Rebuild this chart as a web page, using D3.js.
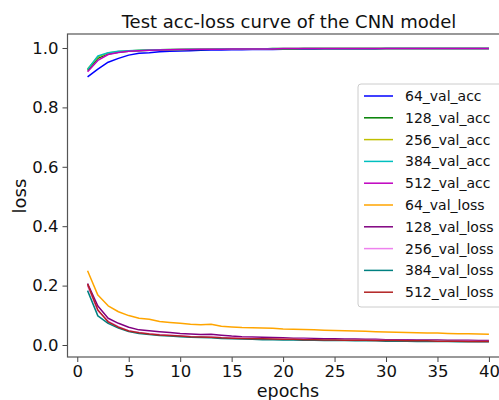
<!DOCTYPE html>
<html>
<head>
<meta charset="utf-8">
<script src="https://cdn.jsdelivr.net/npm/d3@7"></script>
<style>
  body { margin: 0; background: #fff; }
  svg { font-family: "DejaVu Sans", sans-serif; }
</style>
</head>
<body>
<svg width="499" height="400"></svg>
<script>
// epochs 1..40
var epochs = d3.range(1, 41);

var acc64  = [0.903, 0.929, 0.952, 0.965, 0.976, 0.982, 0.984, 0.987, 0.989, 0.990, 0.991, 0.992, 0.993, 0.993, 0.994, 0.994, 0.995, 0.995, 0.995, 0.996, 0.996, 0.996, 0.996, 0.997, 0.997, 0.997, 0.997, 0.997, 0.997, 0.998, 0.998, 0.998, 0.998, 0.998, 0.998, 0.998, 0.998, 0.998, 0.998, 0.998];
var acc128 = [0.924, 0.965, 0.980, 0.986, 0.989, 0.991, 0.992, 0.993, 0.994, 0.995, 0.995, 0.995, 0.996, 0.996, 0.996, 0.997, 0.997, 0.997, 0.997, 0.997, 0.997, 0.998, 0.998, 0.998, 0.998, 0.998, 0.998, 0.998, 0.998, 0.998, 0.998, 0.998, 0.998, 0.998, 0.998, 0.998, 0.998, 0.998, 0.998, 0.998];
var acc256 = [0.929, 0.970, 0.983, 0.988, 0.990, 0.992, 0.993, 0.994, 0.995, 0.995, 0.996, 0.996, 0.996, 0.997, 0.997, 0.997, 0.997, 0.997, 0.998, 0.998, 0.998, 0.998, 0.998, 0.998, 0.998, 0.998, 0.998, 0.998, 0.998, 0.998, 0.998, 0.998, 0.998, 0.998, 0.998, 0.998, 0.998, 0.998, 0.998, 0.998];
var acc384 = [0.928, 0.973, 0.984, 0.989, 0.991, 0.992, 0.993, 0.994, 0.995, 0.995, 0.996, 0.996, 0.996, 0.997, 0.997, 0.997, 0.997, 0.997, 0.998, 0.998, 0.998, 0.998, 0.998, 0.998, 0.998, 0.998, 0.998, 0.998, 0.998, 0.998, 0.998, 0.998, 0.998, 0.998, 0.998, 0.998, 0.998, 0.998, 0.998, 0.998];
var acc512 = [0.920, 0.958, 0.978, 0.985, 0.989, 0.991, 0.992, 0.993, 0.994, 0.995, 0.995, 0.996, 0.996, 0.996, 0.997, 0.997, 0.997, 0.997, 0.997, 0.998, 0.998, 0.998, 0.998, 0.998, 0.998, 0.998, 0.998, 0.998, 0.998, 0.998, 0.998, 0.998, 0.998, 0.998, 0.998, 0.998, 0.998, 0.998, 0.998, 0.998];

var loss64  = [0.250, 0.168, 0.132, 0.112, 0.099, 0.090, 0.087, 0.079, 0.076, 0.073, 0.070, 0.068, 0.070, 0.063, 0.061, 0.059, 0.058, 0.057, 0.056, 0.054, 0.053, 0.052, 0.051, 0.050, 0.049, 0.048, 0.047, 0.046, 0.045, 0.044, 0.043, 0.042, 0.041, 0.040, 0.040, 0.039, 0.038, 0.038, 0.037, 0.036];
var loss128 = [0.207, 0.131, 0.090, 0.073, 0.060, 0.051, 0.048, 0.045, 0.042, 0.039, 0.037, 0.035, 0.036, 0.033, 0.030, 0.028, 0.027, 0.026, 0.025, 0.024, 0.023, 0.023, 0.022, 0.021, 0.021, 0.020, 0.020, 0.019, 0.019, 0.018, 0.018, 0.018, 0.017, 0.017, 0.017, 0.016, 0.016, 0.016, 0.015, 0.015];
var loss256 = [0.200, 0.115, 0.080, 0.062, 0.048, 0.042, 0.038, 0.035, 0.033, 0.031, 0.029, 0.028, 0.027, 0.025, 0.024, 0.023, 0.022, 0.021, 0.020, 0.020, 0.019, 0.019, 0.018, 0.018, 0.017, 0.017, 0.016, 0.016, 0.016, 0.015, 0.015, 0.015, 0.014, 0.014, 0.014, 0.013, 0.013, 0.013, 0.012, 0.012];
var loss384 = [0.183, 0.098, 0.073, 0.057, 0.045, 0.039, 0.035, 0.032, 0.030, 0.028, 0.026, 0.025, 0.024, 0.022, 0.021, 0.020, 0.019, 0.018, 0.018, 0.017, 0.017, 0.016, 0.016, 0.015, 0.015, 0.015, 0.014, 0.014, 0.014, 0.013, 0.013, 0.013, 0.012, 0.012, 0.012, 0.012, 0.011, 0.011, 0.011, 0.011];
var loss512 = [0.205, 0.118, 0.078, 0.060, 0.047, 0.041, 0.037, 0.034, 0.032, 0.030, 0.028, 0.027, 0.026, 0.024, 0.023, 0.022, 0.021, 0.021, 0.020, 0.019, 0.019, 0.018, 0.018, 0.017, 0.017, 0.016, 0.016, 0.016, 0.015, 0.015, 0.015, 0.014, 0.014, 0.014, 0.013, 0.013, 0.013, 0.012, 0.012, 0.012];

var names  = ["64_val_acc", "128_val_acc", "256_val_acc", "384_val_acc", "512_val_acc",
              "64_val_loss", "128_val_loss", "256_val_loss", "384_val_loss", "512_val_loss"];
var colors = ["#0000ff", "#008000", "#bfbf00", "#00bfbf", "#bf00bf",
              "#ffa500", "#800080", "#ee82ee", "#008080", "#b22222"];
var xTicks = [0, 5, 10, 15, 20, 25, 30, 35, 40];
var yTicks = [0.0, 0.2, 0.4, 0.6, 0.8, 1.0];

var series = [acc64, acc128, acc256, acc384, acc512, loss64, loss128, loss256, loss384, loss512];

var svg = d3.select("svg");
var pLeft = 67.5, pTop = 34, pRight = 509, pBottom = 357;

var x = d3.scaleLinear().domain([-0.95, 41.95]).range([pLeft, pRight]);
var y = d3.scaleLinear().domain([-0.0404, 1.0471]).range([pBottom, pTop]);

svg.append("defs").append("clipPath").attr("id", "plotclip")
  .append("rect").attr("x", pLeft).attr("y", pTop).attr("width", pRight - pLeft).attr("height", pBottom - pTop);

var line = d3.line()
    .x(function(d, i) { return x(epochs[i]); })
    .y(function(d) { return y(d); });

var plot = svg.append("g").attr("clip-path", "url(#plotclip)");
series.forEach(function(s, k) {
  plot.append("path")
      .attr("d", line(s))
      .attr("fill", "none")
      .attr("stroke", colors[k])
      .attr("stroke-width", 1.5)
      .attr("stroke-linejoin", "round");
});

// axes
var xAxis = svg.append("g").attr("transform", "translate(0," + pBottom + ")")
    .call(d3.axisBottom(x).tickValues(xTicks).tickSize(5).tickPadding(3).tickFormat(d3.format("d")));
var yAxis = svg.append("g").attr("transform", "translate(" + pLeft + ",0)")
    .call(d3.axisLeft(y).tickValues(yTicks).tickSize(5).tickPadding(4).tickFormat(d3.format(".1f")));

[xAxis, yAxis].forEach(function(a) {
  a.select(".domain").remove();
  a.selectAll("line").attr("stroke", "#444").attr("stroke-width", 1);
  a.selectAll("text").attr("fill", "#111").style("font-size", "16.5px").style("font-family", "DejaVu Sans");
});

// frame
svg.append("rect")
    .attr("x", pLeft).attr("y", pTop)
    .attr("width", pRight - pLeft).attr("height", pBottom - pTop)
    .attr("fill", "none").attr("stroke", "#555").attr("stroke-width", 1.2);

// title + labels
svg.append("text").attr("x", 289).attr("y", 28).attr("text-anchor", "middle")
    .style("font-size", "18px").attr("fill", "#111").text("Test acc-loss curve of the CNN model");
svg.append("text").attr("x", 288).attr("y", 396.5).attr("text-anchor", "middle")
    .style("font-size", "17.5px").attr("fill", "#111").text("epochs");
svg.append("text").attr("transform", "translate(26,196) rotate(-90)").attr("text-anchor", "middle")
    .style("font-size", "18px").attr("fill", "#111").text("loss");

// legend
var lg = svg.append("g");
lg.append("rect").attr("x", 358).attr("y", 84).attr("width", 160).attr("height", 223)
    .attr("rx", 3).attr("fill", "#fff").attr("fill-opacity", 0.8)
    .attr("stroke", "#ccc").attr("stroke-width", 1);
names.forEach(function(n, k) {
  var yy = 96 + k * 21.8;
  lg.append("line").attr("x1", 364).attr("x2", 393).attr("y1", yy).attr("y2", yy)
      .attr("stroke", colors[k]).attr("stroke-width", 1.5);
  lg.append("text").attr("x", 405).attr("y", yy + 5).style("font-size", "14px")
      .attr("fill", "#111").text(n);
});
</script>
</body>
</html>
